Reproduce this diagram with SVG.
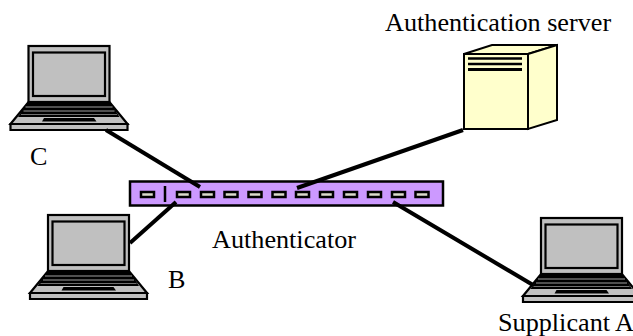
<svg xmlns="http://www.w3.org/2000/svg" width="633" height="336" viewBox="0 0 633 336">
<style>
text{font-family:"Liberation Serif","Times New Roman",serif;font-size:26.200px;fill:#000}
.o{stroke:#000;stroke-width:2.200;stroke-linejoin:miter}
.g{fill:#c0c0c0}
.k{fill:#000;stroke:none}
.port{fill:#dcdccc;stroke:#000;stroke-width:2.500}
.c{stroke:#000;stroke-width:4;fill:none}
</style>
<defs>
<g id="laptop">
<rect class="o g" x="0" y="0" width="81" height="56"/>
<rect class="o g" x="4.500" y="6.500" width="72" height="43.500"/>
<path class="o g" d="M0 56H81L99 78H-18Z"/>
<path class="o g" d="M-18 78H99V84H-18Z"/>
<path class="k" d="M-1.500 57H82.500L91 71H-10.500Z"/>
<path d="M-3 61H84M-5 65H86" stroke="#a0a0a0" stroke-width="1" fill="none"/>
<path d="M-7.500 68.500H88.500" stroke="#707070" stroke-width="1" fill="none"/>
<path class="k" d="M15.500 72H65.500L68 75.500H13.500Z"/>
</g>
</defs>
<g id="laptop-c"><use href="#laptop" x="28.500" y="46"/><text x="30" y="165">C</text></g>
<g id="laptop-b"><use href="#laptop" x="48" y="215"/><text x="168" y="288">B</text></g>
<g id="laptop-a"><use href="#laptop" x="541" y="218"/><text x="498" y="331">Supplicant A</text></g>
<g id="server">
<path d="M464 54L492 45H557L528 54Z" fill="#ffffcc" stroke="#000" stroke-width="2"/>
<path d="M528 54L557 45V120L528 129Z" fill="#ffffcc" stroke="#000" stroke-width="2"/>
<rect x="464" y="54" width="64" height="75" fill="#ffffcc" stroke="#000" stroke-width="2"/>
<path d="M468 58.500H522M468 64H522" stroke="#000" stroke-width="2.500"/>
<path d="M468 69.500H522" stroke="#000" stroke-width="3"/>
<text x="385" y="31">Authentication server</text>
</g>
<g id="authenticator">
<rect x="130" y="181.500" width="313" height="24" fill="#cc99ff" stroke="#000" stroke-width="2.500"/>
<path d="M165 186V202" stroke="#000" stroke-width="2.500"/>
<g class="port">
<rect x="141" y="192" width="13" height="5"/>
<rect x="177" y="192" width="13" height="5"/>
<rect x="201" y="192" width="13" height="5"/>
<rect x="224.500" y="192" width="13" height="5"/>
<rect x="248.500" y="192" width="13" height="5"/>
<rect x="272.500" y="192" width="13" height="5"/>
<rect x="296" y="192" width="13" height="5"/>
<rect x="320" y="192" width="13" height="5"/>
<rect x="344" y="192" width="13" height="5"/>
<rect x="368" y="192" width="13" height="5"/>
<rect x="392" y="192" width="13" height="5"/>
<rect x="415.500" y="192" width="13" height="5"/>
</g>
<text x="212" y="248">Authenticator</text>
</g>
<g id="connectors">
<path class="c" d="M106 130L200 187"/>
<path class="c" d="M463 130L297 188"/>
<path class="c" d="M176 202L130 243"/>
<path class="c" d="M393 202L533 285"/>
</g>
</svg>
